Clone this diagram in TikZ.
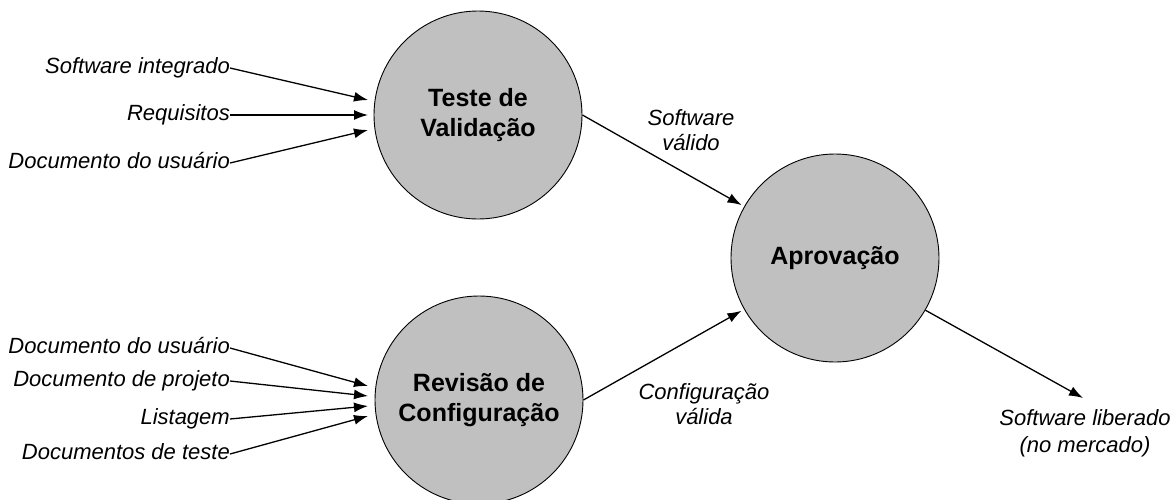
\documentclass[tikz,border=0pt]{standalone}
\usepackage{fontspec}
\setmainfont{Liberation Sans}
\usetikzlibrary{arrows.meta}
\definecolor{procfill}{HTML}{C0C0C0}
\begin{document}
\begin{tikzpicture}[x=1pt,y=-1pt,
  proc/.style={circle,draw=black,line width=0.9pt,fill=procfill,minimum size=208pt,inner sep=0pt,align=center,
    font=\fontsize{25}{30}\selectfont\bfseries},
  lbl/.style={inner sep=0pt,anchor=east,font=\fontsize{22}{25}\selectfont\itshape,text height=16pt,text depth=5pt},
  mid/.style={inner sep=0pt,align=center,font=\fontsize{22}{25}\selectfont\itshape},
  flow/.style={line width=1.3pt,-{Latex[length=14pt,width=10pt]}}]
\useasboundingbox (0,0) rectangle (1171,499);
\begin{scope}
\clip (0,0) rectangle (1171,499);
\node[proc] (T) at (478,115) {Teste de\\Validação};
\node[proc] (R) at (479,400) {Revisão de\\Configuração};
\node[proc] (A) at (835,258) {Aprovação};
\end{scope}

% inputs to Teste de Validacao
\node[lbl] (i1) at (230,68) {Software integrado};
\node[lbl] (i2) at (230,115) {Requisitos};
\node[lbl] (i3) at (230,163) {Documento do usuário};
\coordinate (t1) at (368,100);
\coordinate (t2) at (368,115);
\coordinate (t3) at (368,130);
\draw[flow] (i1.east) -- (t1);
\draw[flow] (i2.east) -- (t2);
\draw[flow] (i3.east) -- (t3);

% inputs to Revisao de Configuracao
\node[lbl] (j1) at (230,348) {Documento do usuário};
\node[lbl] (j2) at (230,381) {Documento de projeto};
\node[lbl] (j3) at (230,419) {Listagem};
\node[lbl] (j4) at (230,454) {Documentos de teste};
\coordinate (r1) at (368,386);
\coordinate (r2) at (368,396);
\coordinate (r3) at (368,406);
\coordinate (r4) at (368,416);
\draw[flow] (j1.east) -- (r1);
\draw[flow] (j2.east) -- (r2);
\draw[flow] (j3.east) -- (r3);
\draw[flow] (j4.east) -- (r4);

% to Aprovacao
\draw[flow,shorten >=3pt] (T.east) -- (A);
\draw[flow,shorten >=3pt] (R.east) -- (A);
\node[mid] (l1) at (691,130) {Software\\válido};
\node[mid] (l2) at (704,404) {Configuração\\válida};

% output
\node[mid] (out) at (1085,433) {Software liberado\\[2pt](no mercado)};
\coordinate (o1) at (1083,398);
\draw[flow] (A.-30) -- (o1);
\end{tikzpicture}
\end{document}
